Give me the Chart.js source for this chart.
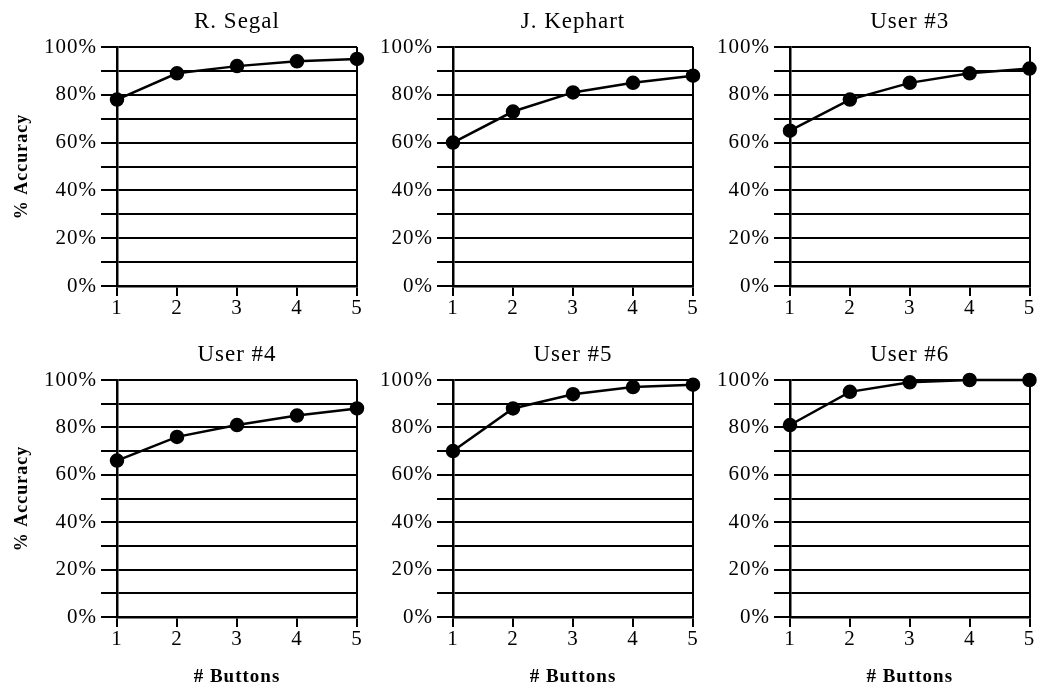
<!DOCTYPE html>
<html lang="en">

<head>
    <meta charset="UTF-8" />
    <title># Buttons vs % Accuracy</title>
    <script src="https://cdn.jsdelivr.net/npm/chart.js@4.4.0/dist/chart.umd.min.js"></script>
    <style>
        body { margin: 0; background: #fff; overflow: hidden; }
        canvas { position: absolute; }
    </style>
</head>

<body>
    <canvas id="c1" width="367" height="326" style="left:0;top:0"></canvas>
    <canvas id="c2" width="343" height="326" style="left:360px;top:0"></canvas>
    <canvas id="c3" width="343" height="326" style="left:695px;top:0"></canvas>
    <canvas id="c4" width="367" height="357" style="left:0;top:330px"></canvas>
    <canvas id="c5" width="343" height="357" style="left:360px;top:330px"></canvas>
    <canvas id="c6" width="343" height="357" style="left:695px;top:330px"></canvas>

    <script>
        // values (% accuracy for 1..5 buttons)
        const buttons = ['1', '2', '3', '4', '5'];
        const segal = [78, 89, 92, 94, 95];
        const kephart = [60, 73, 81, 85, 88];
        const user3 = [65, 78, 85, 89, 91];
        const user4 = [66, 76, 81, 85, 88];
        const user5 = [70, 88, 94, 97, 98];
        const user6 = [81, 95, 99, 100, 100];
        const yLabelled = [0, 20, 40, 60, 80, 100];

        const serif = 'Liberation Serif';

        // text in the scan is wider than plain Times, so space the letters a bit
        const spacing = {
            id: 'spacing',
            beforeUpdate(c) { c.ctx.letterSpacing = '1px'; },
            beforeDraw(c) { c.ctx.letterSpacing = '1px'; }
        };

        function makeChart(id, title, values, o) {
            const ctx = document.getElementById(id).getContext('2d');
            return new Chart(ctx, {
                type: 'line',
                data: {
                    labels: buttons,
                    datasets: [{
                        data: values,
                        borderColor: '#000',
                        borderWidth: 2.5,
                        pointRadius: 6,
                        pointBackgroundColor: '#000',
                        pointBorderColor: '#000',
                        tension: 0,
                        clip: false
                    }]
                },
                plugins: [spacing],
                options: {
                    responsive: false,
                    animation: false,
                    layout: { padding: { left: 0, right: o.rightPad, top: 0, bottom: 0 } },
                    plugins: {
                        legend: { display: false },
                        tooltip: { enabled: false },
                        title: {
                            display: true,
                            text: title,
                            fullSize: false,
                            color: '#000',
                            font: { family: serif, size: 23, weight: 'normal', lineHeight: 1 },
                            padding: o.titlePad
                        }
                    },
                    scales: {
                        x: {
                            afterFit: s => { s.height = o.xH; },
                            grid: {
                                color: c => (c.index === 4 ? '#000' : 'rgba(0,0,0,0)'),
                                tickColor: '#000',
                                lineWidth: 2,
                                tickLength: 10
                            },
                            border: { color: '#000', width: 2.5 },
                            ticks: {
                                color: '#000',
                                padding: 0,
                                maxRotation: 0,
                                font: { family: serif, size: 21 }
                            },
                            title: {
                                display: o.xTitle,
                                text: '# Buttons',
                                color: '#000',
                                font: { family: serif, size: 19, weight: 'bold', lineHeight: 1 },
                                padding: { top: 0, bottom: 0 }
                            }
                        },
                        y: {
                            min: 0,
                            max: 100,
                            afterFit: s => { s.width = o.yW; },
                            grid: {
                                color: '#000',
                                tickColor: '#000',
                                lineWidth: 2,
                                tickLength: 16
                            },
                            border: { color: '#000', width: 2.5 },
                            ticks: {
                                stepSize: 10,
                                autoSkip: false,
                                color: '#000',
                                padding: 4,
                                font: { family: serif, size: 21 },
                                callback: v => (yLabelled.includes(v) ? v + '%' : '')
                            },
                            title: {
                                display: o.yTitle,
                                text: '% Accuracy',
                                color: '#000',
                                font: { family: serif, size: 18, weight: 'bold', lineHeight: 1 },
                                padding: { top: 13, bottom: 0 }
                            }
                        }
                    }
                }
            });
        }

        const topRow = { yTitle: false, xTitle: false, xH: 40, titlePad: { top: 10, bottom: 14 } };
        const bottomRow = { yTitle: false, xTitle: true, xH: 70, titlePad: { top: 13, bottom: 14 } };

        makeChart('c1', 'R. Segal', segal, { ...topRow, yTitle: true, yW: 117, rightPad: 10 });
        makeChart('c2', 'J. Kephart', kephart, { ...topRow, yW: 93, rightPad: 10 });
        makeChart('c3', 'User #3', user3, { ...topRow, yW: 95, rightPad: 5 });
        makeChart('c4', 'User #4', user4, { ...bottomRow, yTitle: true, yW: 117, rightPad: 10 });
        makeChart('c5', 'User #5', user5, { ...bottomRow, yW: 93, rightPad: 10 });
        makeChart('c6', 'User #6', user6, { ...bottomRow, yW: 95, rightPad: 5 });
    </script>
</body>

</html>
